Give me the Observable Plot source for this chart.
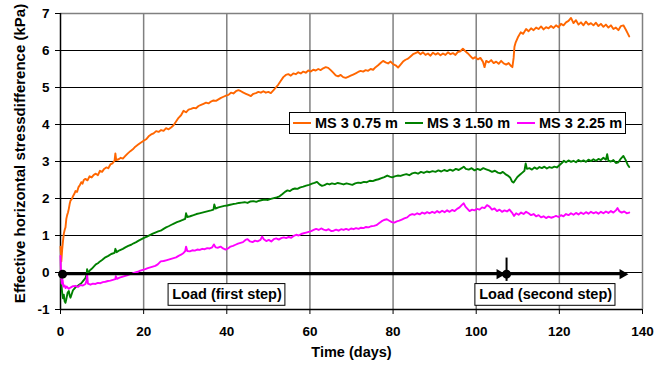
<!DOCTYPE html>
<html><head><meta charset="utf-8">
<script src="https://cdn.jsdelivr.net/npm/d3@7"></script>
<script src="https://cdn.jsdelivr.net/npm/@observablehq/plot@0.6"></script>
<style>
body{margin:0;background:#fff;}
#wrap{position:relative;width:668px;height:366px;font-family:"Liberation Sans",Arial,sans-serif;font-weight:bold;}
#legend{position:absolute;left:289px;top:112px;height:20px;border:1px solid #000;background:#fff;display:flex;align-items:center;font-size:14.5px;padding:0 3px 0 3px;white-space:nowrap}
.item{display:flex;align-items:center;margin-right:7px}
.item:last-child{margin-right:0}
.sw{width:18px;height:2px;margin-right:4px}
</style></head><body><div id="wrap"></div>
<script>
const seriesNames = ["MS 3 0.75 m", "MS 3 1.50 m", "MS 3 2.25 m"];
const seriesColors = ["#ff6600", "#008000", "#ff00ff"];
const xTicks = [0, 20, 40, 60, 80, 100, 120, 140];
const yTicks = [-1, 0, 1, 2, 3, 4, 5, 6, 7];
const xTitle = "Time (days)";
const yTitle = "Effective horizontal stressdifference (kPa)";

const ms075 = [[0,0.70],[0.2,0.30],[0.4,0.62],[0.6,0.85],[0.8,1.05],[1.0,1.15],[1.2,1.22],[1.4,1.45],[1.6,1.55],[1.8,1.62],[2.0,1.72],[2.2,1.85],[2.4,1.94],[2.7,1.98],[3.0,2.06],[3.3,2.12],[3.6,2.20],[4.0,2.18],[4.3,2.30],[4.6,2.35],[5.0,2.44],[5.3,2.40],[5.6,2.50],[6.0,2.53],[6.5,2.49],[7.0,2.60],[7.5,2.57],[8.0,2.64],[8.5,2.67],[9.0,2.63],[9.5,2.75],[10.0,2.72],[10.5,2.80],[11.0,2.84],[11.5,2.82],[12.0,2.92],[12.5,2.95],[13.0,3.02],[13.2,3.22],[13.4,3.04],[14.0,3.06],[14.5,3.10],[15.0,3.08],[15.6,3.15],[16.2,3.22],[16.8,3.28],[17.4,3.33],[18.0,3.40],[18.6,3.45],[19.2,3.50],[20.0,3.56],[20.6,3.60],[21.2,3.68],[21.8,3.73],[22.4,3.76],[23.0,3.82],[23.6,3.80],[24.2,3.85],[24.8,3.83],[25.4,3.90],[26.0,3.87],[26.6,3.92],[27.2,3.98],[27.8,4.08],[28.4,4.18],[29.0,4.25],[29.6,4.37],[30.2,4.33],[30.8,4.40],[31.4,4.42],[32.0,4.45],[32.6,4.44],[33.2,4.50],[33.8,4.53],[34.4,4.56],[35.0,4.59],[35.6,4.57],[36.2,4.62],[36.8,4.65],[37.4,4.64],[38.0,4.68],[38.6,4.72],[39.2,4.75],[39.8,4.78],[40.4,4.80],[41.0,4.86],[41.6,4.84],[42.2,4.90],[42.8,4.93],[43.4,4.90],[44.0,4.86],[44.6,4.83],[45.2,4.80],[45.8,4.77],[46.4,4.83],[47.0,4.85],[47.6,4.88],[48.2,4.86],[48.8,4.90],[49.4,4.86],[50.0,4.88],[50.6,4.85],[51.2,4.92],[51.8,5.00],[52.4,5.08],[53.0,5.18],[53.6,5.28],[54.2,5.34],[54.8,5.36],[55.4,5.32],[56.0,5.38],[56.6,5.36],[57.2,5.41],[57.8,5.38],[58.4,5.43],[59.0,5.40],[59.6,5.46],[60.2,5.43],[60.8,5.48],[61.4,5.46],[62.0,5.50],[62.6,5.47],[63.2,5.52],[63.8,5.55],[64.4,5.53],[65.0,5.47],[65.6,5.40],[66.2,5.33],[66.8,5.30],[67.4,5.34],[68.0,5.28],[68.6,5.26],[69.2,5.29],[69.8,5.32],[70.4,5.35],[71.0,5.38],[71.6,5.42],[72.2,5.45],[72.8,5.43],[73.4,5.47],[74.0,5.45],[74.6,5.50],[75.2,5.48],[75.8,5.55],[76.4,5.60],[77.0,5.66],[77.6,5.72],[78.2,5.68],[78.8,5.65],[79.4,5.70],[80.0,5.63],[80.6,5.60],[81.2,5.54],[81.8,5.62],[82.4,5.70],[83.0,5.75],[83.6,5.78],[84.2,5.84],[84.8,5.90],[85.4,5.93],[86.0,5.96],[86.6,5.90],[87.2,5.95],[87.8,5.88],[88.4,5.92],[89.0,5.86],[89.6,5.94],[90.2,5.89],[90.8,5.93],[91.4,5.87],[92.0,5.92],[92.6,5.88],[93.2,5.95],[93.8,5.90],[94.4,5.93],[95.0,5.88],[95.6,5.96],[96.2,5.98],[96.8,6.05],[97.4,5.98],[98.0,5.92],[98.6,5.85],[99.2,5.78],[99.8,5.82],[100.4,5.76],[101.0,5.80],[101.6,5.70],[102.0,5.55],[102.4,5.72],[103.0,5.68],[103.6,5.74],[104.2,5.66],[104.8,5.70],[105.4,5.64],[106.0,5.72],[106.6,5.65],[107.2,5.62],[107.8,5.66],[108.3,5.59],[108.7,5.55],[109.0,5.80],[109.2,6.10],[109.5,6.22],[110.0,6.35],[110.7,6.49],[111.3,6.45],[112.0,6.58],[112.6,6.52],[113.2,6.60],[113.8,6.55],[114.4,6.62],[115.0,6.58],[115.6,6.65],[116.2,6.57],[116.8,6.63],[117.4,6.60],[118.0,6.66],[118.6,6.61],[119.2,6.68],[119.8,6.63],[120.4,6.72],[121.0,6.68],[121.6,6.76],[122.2,6.80],[122.8,6.88],[123.4,6.74],[124.0,6.82],[124.6,6.70],[125.2,6.76],[125.8,6.68],[126.4,6.78],[127.0,6.70],[127.6,6.74],[128.2,6.68],[128.8,6.75],[129.4,6.66],[130.0,6.72],[130.6,6.64],[131.2,6.70],[131.8,6.62],[132.4,6.68],[133.0,6.58],[133.6,6.62],[134.2,6.55],[134.8,6.66],[135.4,6.68],[136.0,6.56],[136.5,6.45],[136.8,6.38]];

const ms150 = [[0,-0.02],[0.2,-0.30],[0.4,-0.55],[0.6,-0.70],[0.8,-0.60],[1.0,-0.78],[1.2,-0.82],[1.4,-0.72],[1.7,-0.55],[2.0,-0.50],[2.2,-0.62],[2.4,-0.68],[2.7,-0.58],[3.0,-0.48],[3.3,-0.44],[3.6,-0.40],[4.0,-0.37],[4.5,-0.33],[5.0,-0.29],[5.5,-0.22],[6.0,-0.15],[6.3,-0.05],[6.4,0.09],[6.6,-0.02],[7.0,0.05],[7.5,0.10],[8.0,0.16],[8.5,0.22],[9.0,0.25],[9.5,0.30],[10.0,0.34],[10.8,0.41],[11.5,0.45],[12.2,0.50],[13.0,0.53],[13.2,0.64],[13.5,0.55],[14.2,0.60],[15.0,0.64],[15.6,0.68],[16.3,0.72],[17.0,0.75],[17.6,0.79],[18.2,0.82],[18.8,0.86],[19.5,0.90],[20.2,0.94],[20.8,0.97],[21.5,1.01],[22.2,1.05],[22.8,1.08],[23.5,1.11],[24.1,1.13],[24.8,1.18],[25.4,1.22],[26.0,1.25],[26.7,1.29],[27.4,1.33],[28.0,1.36],[28.7,1.39],[29.4,1.42],[30.0,1.45],[30.2,1.60],[30.5,1.50],[31.2,1.52],[32.0,1.55],[32.7,1.58],[33.4,1.60],[34.1,1.62],[34.8,1.64],[35.5,1.66],[36.2,1.68],[36.8,1.70],[37.0,1.84],[37.3,1.73],[38.0,1.76],[38.7,1.78],[39.4,1.80],[40.1,1.81],[40.8,1.83],[41.5,1.85],[42.2,1.86],[42.9,1.88],[43.6,1.89],[44.3,1.90],[45.0,1.88],[45.7,1.92],[46.4,1.93],[47.1,1.91],[47.8,1.94],[48.5,1.96],[49.2,1.97],[49.9,1.96],[50.6,1.99],[51.3,2.01],[52.0,2.03],[52.7,2.06],[53.4,2.12],[54.0,2.18],[54.6,2.22],[55.2,2.20],[55.8,2.25],[56.4,2.27],[57.0,2.26],[57.7,2.30],[58.4,2.32],[59.1,2.35],[59.8,2.37],[60.5,2.40],[61.1,2.42],[61.7,2.45],[62.3,2.38],[62.9,2.34],[63.5,2.36],[64.1,2.40],[64.7,2.38],[65.3,2.41],[66.0,2.39],[66.7,2.42],[67.4,2.40],[68.1,2.38],[68.8,2.41],[69.5,2.39],[70.2,2.37],[70.9,2.41],[71.6,2.43],[72.3,2.42],[73.0,2.45],[73.7,2.44],[74.4,2.48],[75.1,2.47],[75.8,2.50],[76.5,2.52],[77.2,2.55],[77.9,2.58],[78.6,2.62],[79.2,2.59],[79.8,2.57],[80.4,2.60],[81.1,2.62],[81.8,2.61],[82.5,2.64],[83.2,2.66],[83.9,2.63],[84.6,2.68],[85.3,2.70],[86.0,2.67],[86.7,2.72],[87.4,2.69],[88.1,2.73],[88.8,2.71],[89.5,2.74],[90.2,2.72],[90.9,2.76],[91.6,2.73],[92.3,2.77],[93.0,2.74],[93.7,2.78],[94.4,2.75],[95.1,2.80],[95.8,2.77],[96.5,2.82],[97.0,2.86],[97.5,2.80],[98.2,2.78],[98.9,2.82],[99.6,2.76],[100.3,2.80],[101.0,2.77],[101.7,2.82],[102.4,2.79],[103.1,2.76],[103.8,2.72],[104.5,2.75],[105.2,2.70],[105.8,2.68],[106.4,2.72],[107.0,2.66],[107.6,2.62],[108.2,2.56],[108.6,2.46],[109.0,2.43],[109.4,2.50],[109.9,2.58],[110.5,2.64],[111.1,2.70],[111.6,2.75],[111.9,2.95],[112.2,2.80],[112.8,2.82],[113.4,2.78],[114.0,2.84],[114.6,2.80],[115.2,2.85],[115.8,2.82],[116.4,2.86],[117.0,2.81],[117.6,2.85],[118.2,2.83],[118.8,2.86],[119.4,2.84],[120.0,2.90],[120.6,2.96],[121.1,3.02],[121.6,2.98],[122.2,3.03],[122.8,2.99],[123.4,3.02],[124.0,2.98],[124.6,3.04],[125.2,3.00],[125.8,3.03],[126.4,2.99],[127.0,3.05],[127.6,3.01],[128.2,3.06],[128.8,3.02],[129.4,3.07],[130.0,3.04],[130.6,3.10],[131.2,3.05],[131.5,3.20],[131.8,3.02],[132.4,3.00],[133.0,3.04],[133.6,2.96],[134.2,2.98],[134.8,3.08],[135.4,3.15],[135.9,3.05],[136.4,2.92],[136.8,2.85]];

const ms225 = [[0,0.45],[0.15,-0.10],[0.3,-0.30],[0.5,-0.20],[0.7,-0.38],[1.0,-0.35],[1.2,-0.42],[1.5,-0.38],[2.0,-0.44],[2.5,-0.40],[3.0,-0.37],[3.6,-0.36],[4.2,-0.39],[4.8,-0.34],[5.4,-0.35],[6.0,-0.31],[6.3,-0.20],[6.4,-0.04],[6.6,-0.30],[7.2,-0.33],[7.8,-0.30],[8.4,-0.31],[9.0,-0.28],[9.6,-0.29],[10.2,-0.26],[10.8,-0.25],[11.4,-0.23],[12.0,-0.22],[12.6,-0.20],[13.2,-0.18],[13.3,-0.10],[13.6,-0.17],[14.2,-0.14],[14.8,-0.12],[15.4,-0.10],[16.0,-0.08],[16.6,-0.05],[17.2,-0.03],[18.0,0.00],[18.6,0.02],[19.2,0.05],[19.8,0.07],[20.4,0.09],[21.0,0.12],[21.6,0.14],[22.2,0.16],[22.8,0.18],[23.4,0.22],[24.1,0.30],[24.8,0.31],[25.4,0.33],[26.0,0.35],[26.6,0.37],[27.2,0.39],[27.8,0.41],[28.4,0.45],[29.0,0.48],[29.6,0.53],[30.0,0.58],[30.2,0.70],[30.5,0.58],[31.1,0.57],[31.7,0.60],[32.3,0.59],[32.9,0.62],[33.5,0.61],[34.1,0.64],[34.7,0.63],[35.3,0.66],[35.9,0.65],[36.5,0.68],[36.9,0.76],[37.3,0.68],[37.9,0.67],[38.5,0.70],[39.1,0.65],[39.7,0.62],[40.3,0.65],[40.9,0.70],[41.5,0.72],[42.1,0.75],[42.7,0.78],[43.3,0.80],[43.9,0.82],[44.5,0.88],[45.0,0.90],[45.6,0.84],[46.2,0.82],[46.8,0.86],[47.4,0.84],[48.1,0.88],[48.5,0.97],[48.9,0.90],[49.5,0.85],[50.1,0.88],[50.7,0.84],[51.3,0.90],[51.9,0.92],[52.5,0.89],[53.1,0.93],[53.7,0.95],[54.3,0.93],[54.9,0.96],[55.5,0.94],[56.1,0.99],[56.7,1.02],[57.3,1.00],[57.9,1.04],[58.5,1.06],[59.1,1.08],[59.7,1.10],[60.3,1.12],[60.9,1.15],[61.5,1.18],[62.1,1.15],[62.7,1.19],[63.3,1.16],[63.9,1.14],[64.5,1.17],[65.1,1.12],[65.7,1.13],[66.3,1.16],[66.9,1.13],[67.5,1.17],[68.1,1.15],[68.7,1.18],[69.3,1.15],[69.9,1.19],[70.5,1.17],[71.1,1.20],[71.7,1.18],[72.3,1.21],[72.9,1.20],[73.5,1.23],[74.1,1.22],[74.7,1.25],[75.4,1.26],[76.0,1.28],[76.6,1.33],[77.2,1.38],[77.8,1.42],[78.5,1.44],[79.1,1.40],[79.7,1.36],[80.3,1.35],[80.9,1.38],[81.5,1.40],[82.1,1.43],[82.7,1.46],[83.4,1.49],[84.0,1.55],[84.6,1.58],[85.2,1.56],[85.8,1.60],[86.4,1.57],[87.0,1.62],[87.6,1.59],[88.2,1.63],[88.8,1.60],[89.4,1.64],[90.0,1.61],[90.6,1.66],[91.2,1.62],[91.8,1.67],[92.4,1.63],[93.0,1.68],[93.6,1.64],[94.2,1.69],[94.8,1.66],[95.4,1.72],[96.0,1.76],[96.5,1.82],[97.0,1.87],[97.4,1.78],[97.9,1.72],[98.4,1.66],[99.0,1.70],[99.6,1.68],[100.2,1.72],[100.8,1.70],[101.4,1.76],[102.0,1.74],[102.6,1.82],[103.2,1.78],[103.8,1.70],[104.4,1.73],[105.0,1.66],[105.6,1.70],[106.2,1.64],[106.8,1.68],[107.4,1.65],[108.0,1.70],[108.6,1.62],[109.1,1.53],[109.6,1.60],[110.2,1.56],[110.8,1.62],[111.4,1.58],[112.0,1.64],[112.6,1.60],[113.2,1.55],[113.8,1.58],[114.4,1.52],[115.0,1.55],[115.6,1.49],[116.2,1.52],[116.8,1.47],[117.4,1.51],[118.0,1.48],[118.6,1.50],[119.2,1.53],[119.8,1.50],[120.4,1.55],[121.0,1.52],[121.6,1.58],[122.2,1.55],[122.8,1.60],[123.4,1.56],[124.0,1.61],[124.6,1.57],[125.2,1.62],[125.8,1.58],[126.4,1.63],[127.0,1.59],[127.6,1.64],[128.2,1.60],[128.8,1.63],[129.4,1.59],[130.0,1.64],[130.6,1.60],[131.2,1.65],[131.8,1.61],[132.4,1.66],[133.0,1.62],[133.6,1.68],[134.0,1.74],[134.4,1.66],[135.0,1.62],[135.6,1.65],[136.2,1.60],[136.8,1.62]];

// load-step annotations (data units)
const loadLines = [{x1: 0.5, x2: 105.6, y: -0.045}, {x1: 107.3, x2: 135.2, y: -0.045}];
const loadHeads = [{x: 105.6, y: -0.045}, {x: 135.2, y: -0.045}];
const loadDots = [{x: 0.5, y: -0.045}, {x: 107.3, y: -0.045}];
const loadTick = [{x: 107.3, y1: 0.39, y2: -0.24}];
const loadLabels = [
  {text: "Load (first step)", x: 40.05, x1: 26.0, x2: 54.1},
  {text: "Load (second step)", x: 116.7, x1: 99.8, x2: 133.5}
];
const loadLabelY = -0.603, loadBoxTop = -0.313, loadBoxBottom = -0.9;

const allSeries = [ms075, ms150, ms225];
const rows = allSeries.flatMap((arr, i) => arr.map(([x, y]) => ({x, y, s: seriesNames[i]})));

const chart = Plot.plot({
  width: 668, height: 366,
  marginLeft: 60, marginRight: 26, marginTop: 13, marginBottom: 57,
  x: {domain: [0, 140]},
  y: {domain: [-1, 7]},
  color: {domain: seriesNames, range: seriesColors},
  style: {fontFamily: "'Liberation Sans', Arial, sans-serif", fontSize: "13.5px", fontWeight: "bold", background: "white", overflow: "visible"},
  marks: [
    Plot.gridX(xTicks.slice(1), {stroke: "#808080", strokeOpacity: 1, strokeWidth: 1.5}),
    Plot.gridY(yTicks.slice(1, -1), {stroke: "#000", strokeOpacity: 1, strokeWidth: 1}),
    Plot.ruleY([7], {stroke: "#808080", strokeWidth: 1.5}),
    Plot.ruleX([0], {stroke: "#000", strokeWidth: 1.5}),
    Plot.ruleY([-1], {stroke: "#000", strokeWidth: 1.5}),
    Plot.axisX({ticks: xTicks, tickSize: 5, tickPadding: 12, label: null, tickFormat: d => String(d), stroke: "#000"}),
    Plot.axisY({ticks: yTicks, tickSize: 5, tickPadding: 6, label: null, tickFormat: d => String(d), stroke: "#000"}),
    Plot.line(rows, {x: "x", y: "y", z: "s", stroke: "s", strokeWidth: 1.9}),
    Plot.link(loadLines, {x1: "x1", x2: "x2", y1: "y", y2: "y", stroke: "#000", strokeWidth: 2.2}),
    Plot.ruleX(loadTick, {x: "x", y1: "y1", y2: "y2", stroke: "#000", strokeWidth: 2}),
    Plot.dot(loadHeads, {x: "x", y: "y", symbol: "triangle", rotate: 90, r: 3.8, fill: "#000"}),
    Plot.dot(loadDots, {x: "x", y: "y", r: 4.5, fill: "#000"}),
    Plot.rect(loadLabels, {x1: "x1", x2: "x2", y1: loadBoxTop, y2: loadBoxBottom, fill: "white", stroke: "#000", strokeWidth: 1}),
    Plot.text(loadLabels, {x: "x", y: loadLabelY, text: "text", fontSize: 14.5, fontWeight: "bold", fill: "#000"}),
    Plot.text([xTitle], {frameAnchor: "bottom", dy: 47.5, text: d => d, fontSize: 14.5, fontWeight: "bold", fill: "#000"}),
    Plot.text([yTitle], {frameAnchor: "left", textAnchor: "middle", rotate: -90, dx: -40, dy: -8, text: d => d, fontSize: 15, fontWeight: "bold", fill: "#000"})
  ]
});

const wrap = document.getElementById("wrap");
wrap.appendChild(chart);
const legend = document.createElement("div");
legend.id = "legend";
seriesNames.forEach((name, i) => {
  const item = document.createElement("div");
  item.className = "item";
  const sw = document.createElement("div");
  sw.className = "sw";
  sw.style.background = seriesColors[i];
  const label = document.createElement("span");
  label.textContent = name;
  item.appendChild(sw);
  item.appendChild(label);
  legend.appendChild(item);
});
wrap.appendChild(legend);
</script></body></html>
